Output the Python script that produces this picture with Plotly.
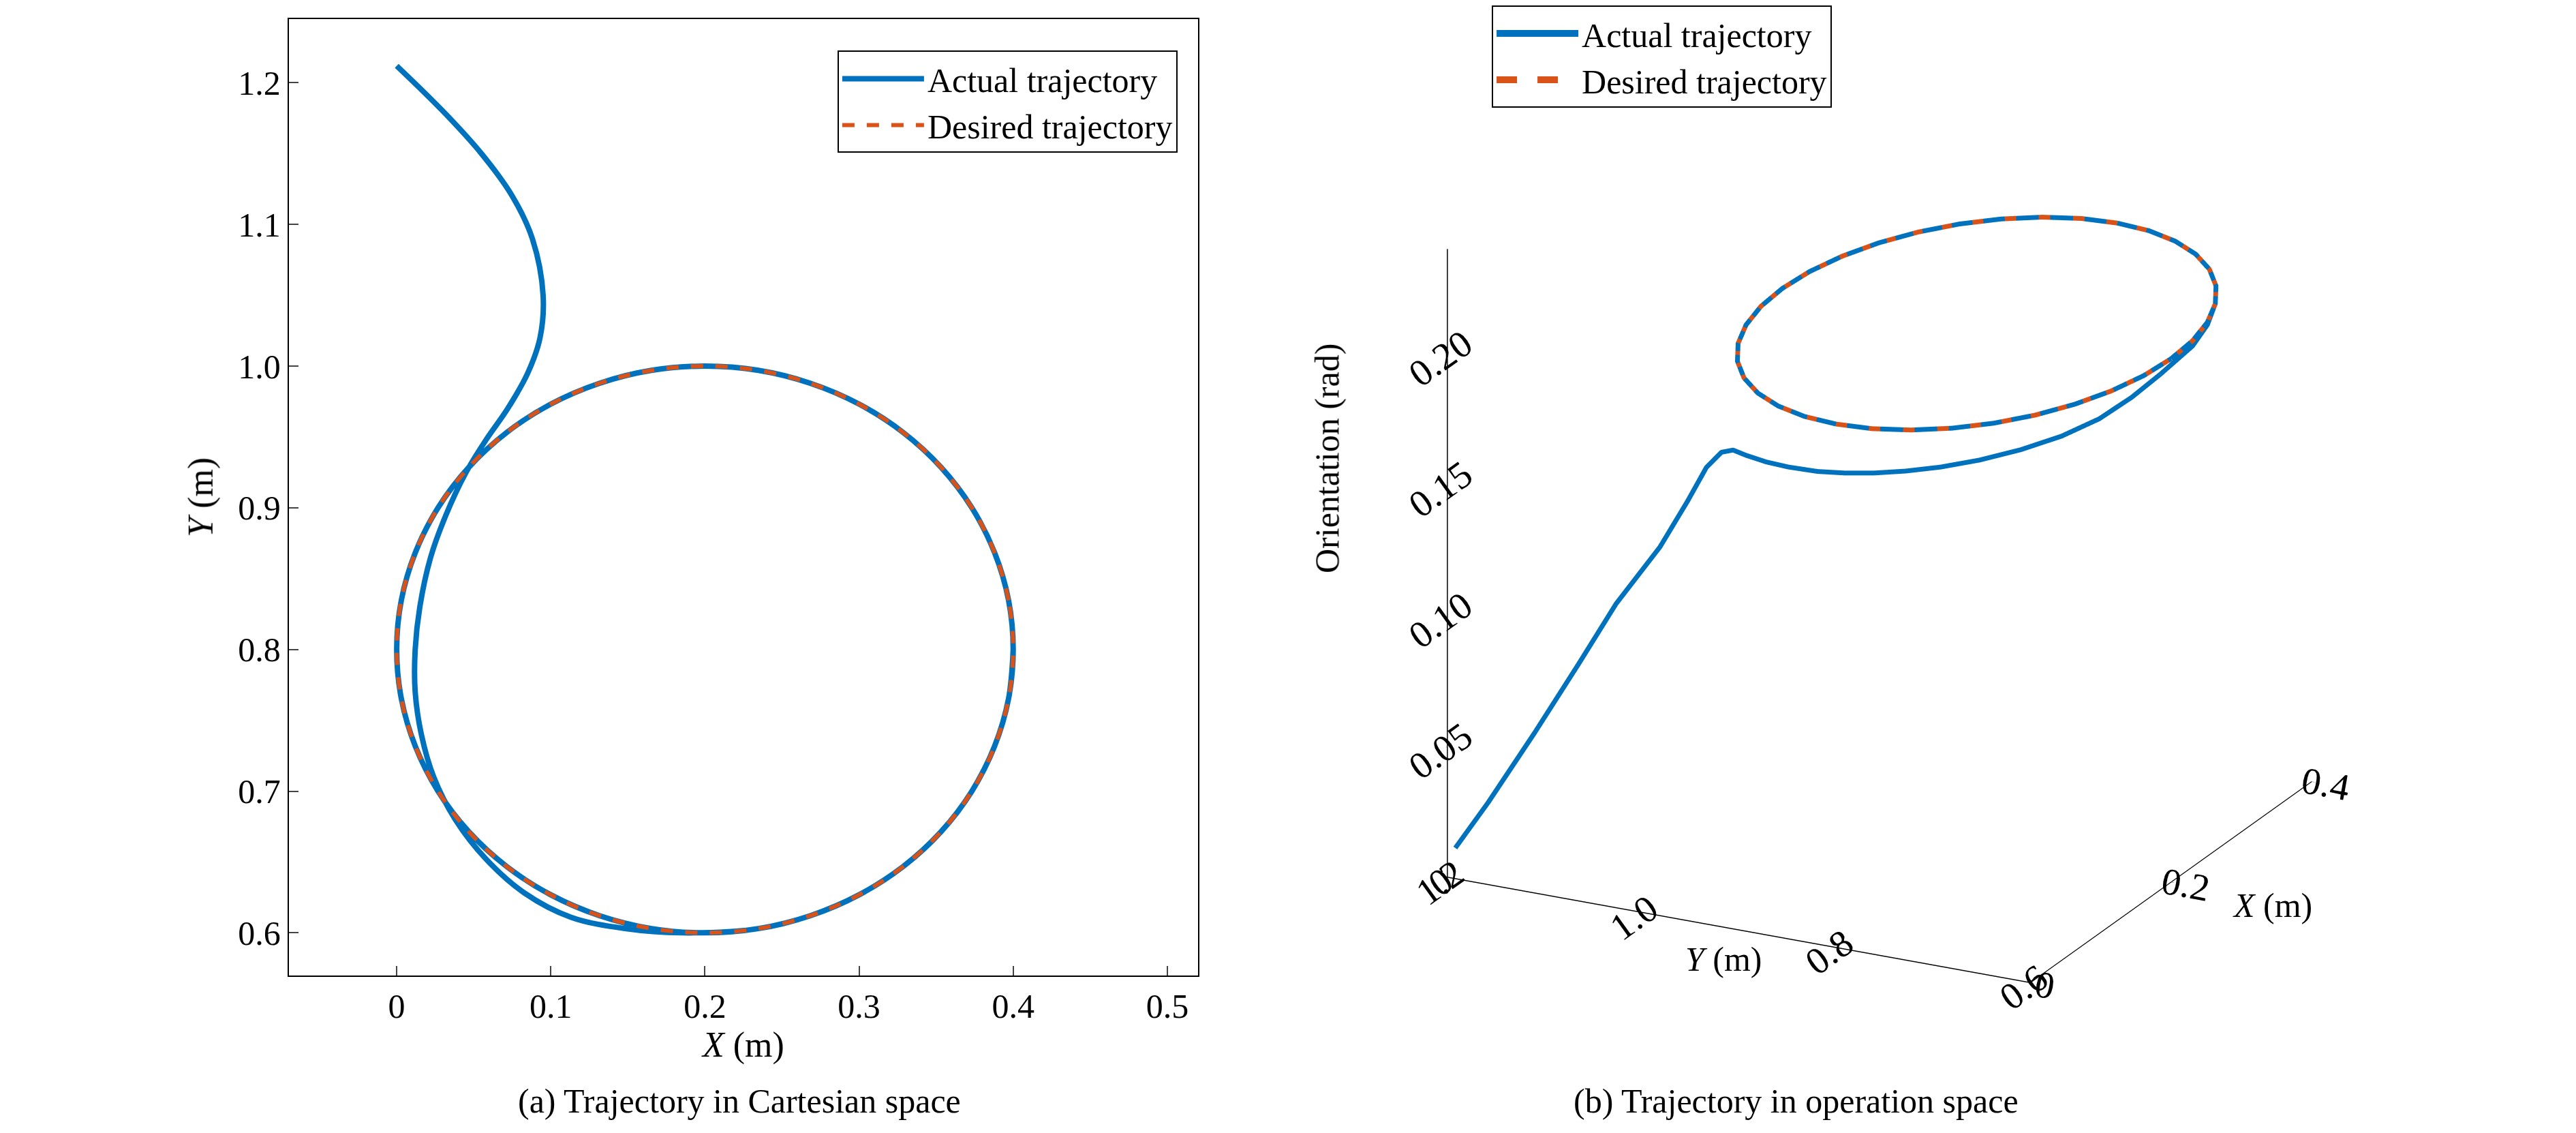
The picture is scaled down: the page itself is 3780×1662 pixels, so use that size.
import plotly.graph_objects as go

# Desired circle (centre (0.2, 0.8), radius 0.2), orientation 0.2 rad
des_x = [.4,.3970,.3879,.3732,.3532,.3286,.3,.2684,.2347,.2,.1653,.1316,.1,.0714,.0468,.0268,.0121,.0030,
         0,.0030,.0121,.0268,.0468,.0714,.1,.1316,.1653,.2,.2347,.2684,.3,.3286,.3532,.3732,.3879,.3970,.4]
des_y = [.8,.8347,.8684,.9,.9286,.9532,.9732,.9879,.9970,1.0,.9970,.9879,.9732,.9532,.9286,.9,.8684,.8347,
         .8,.7653,.7316,.7,.6714,.6468,.6268,.6121,.6030,.6,.6030,.6121,.6268,.6468,.6714,.7,.7316,.7653,.8]
des_z = [0.2]*len(des_x)

# Actual trajectory
act_x = [0,.03,.055,.075,.088,.095,.093,.085,.072,.058,.045,.032,.022,.015,.012,.012,.016,.024,.038,.058,.083,.113,.148,.185,
         .2347,.2684,.3,.3286,.3532,.3732,.3879,.3970,.4] + des_x[1:]
act_y = [1.212,1.18,1.15,1.12,1.09,1.05,1.02,.995,.97,.948,.925,.895,.865,.83,.80,.77,.74,.71,.68,.652,.628,.611,.603,.6,
         .603,.6121,.6268,.6468,.6714,.7,.7316,.7653,.8] + des_y[1:]
act_z = [0,.024,.048,.072,.095,.118,.138,.154,.164,.169,.171,.173,.175,.177,.179,.181,.183,.185,.187,.189,.191,.193,.195,.197,
         .198,.199,.2,.2,.2,.2,.2,.2,.2] + des_z[1:]

x_ticks = [0, 0.1, 0.2, 0.3, 0.4, 0.5]
x_ticktext = ["0", "0.1", "0.2", "0.3", "0.4", "0.5"]
y_ticks = [0.6, 0.7, 0.8, 0.9, 1.0, 1.1, 1.2]
y_ticktext = ["0.6", "0.7", "0.8", "0.9", "1.0", "1.1", "1.2"]

BLUE = "#0072BD"
ORANGE = "#D95319"
FONT = "Liberation Serif"
FS = 50
F3 = 26
K = 1.32  # scene scale

fig = go.Figure()
fig.add_trace(go.Scatter(x=act_x, y=act_y, mode="lines", name="Actual trajectory",
                         line=dict(color=BLUE, width=8, shape="spline"), legend="legend"))
fig.add_trace(go.Scatter(x=des_x, y=des_y, mode="lines", name="Desired trajectory",
                         line=dict(color=ORANGE, width=6, dash="dash", shape="spline"), legend="legend"))
fig.add_trace(go.Scatter3d(x=act_x, y=act_y, z=act_z, mode="lines", name="Actual trajectory",
                           line=dict(color=BLUE, width=14), legend="legend2"))
fig.add_trace(go.Scatter3d(x=des_x, y=des_y, z=des_z, mode="lines", name="Desired trajectory",
                           line=dict(color=ORANGE, width=14, dash="dash"), legend="legend2"))

ax = dict(showline=True, mirror=True, linecolor="black", linewidth=2, ticks="inside", ticklen=14,
          tickwidth=2, showgrid=False, zeroline=False, tickfont=dict(family=FONT, size=FS, color="black"))
ax3 = dict(showgrid=False, showbackground=False, zeroline=False, showline=True, linecolor="black",
           linewidth=3, ticks="inside", tickfont=dict(size=F3, family=FONT), showspikes=False,
           title=dict(text=""))
fig.update_layout(
    width=3780, height=1662, paper_bgcolor="white", plot_bgcolor="white",
    margin=dict(l=0, r=0, t=0, b=0), font=dict(family=FONT, size=FS, color="black"),
    xaxis=dict(ax, domain=[0.11, 0.463], range=[-0.07, 0.52], tickvals=x_ticks, ticktext=x_ticktext,
               title=dict(text="<i>X</i> (m)", font=dict(size=52), standoff=10)),
    yaxis=dict(ax, domain=[0.144, 0.988], range=[0.57, 1.245], tickvals=y_ticks, ticktext=y_ticktext,
               title=dict(text="<i>Y</i> (m)", font=dict(size=52), standoff=20)),
    legend=dict(x=0.455, y=0.96, xanchor="right", yanchor="top", bgcolor="white", itemwidth=120,
                bordercolor="black", borderwidth=2, font=dict(size=FS), tracegroupgap=0),
    legend2=dict(x=0.577, y=1.0, xanchor="left", yanchor="top", bgcolor="white", itemwidth=120,
                 bordercolor="black", borderwidth=2, font=dict(size=FS)),
    scene=dict(
        domain=dict(x=[0.51, 0.945], y=[0.1, 1.0]),
        xaxis=dict(ax3, range=[0, 0.4], tickvals=[0, 0.2, 0.4], ticktext=["0", "0.2", "0.4"]),
        yaxis=dict(ax3, range=[0.6, 1.2], tickvals=[0.6, 0.8, 1.0, 1.2], ticktext=["0.6", "0.8", "1.0", "1.2"]),
        zaxis=dict(ax3, range=[0, 0.24], tickvals=[0, 0.05, 0.1, 0.15, 0.2],
                   ticktext=["0", "0.05", "0.10", "0.15", "0.20"]),
        aspectmode="manual", aspectratio=dict(x=0.93 * K, y=0.97 * K, z=1.0 * K),
        camera=dict(eye=dict(x=-1.67, y=-0.84, z=0.72), projection=dict(type="orthographic")),
    ),
    annotations=[
        dict(text="(a) Trajectory in Cartesian space", x=0.285, y=0.015, xref="paper", yref="paper",
             showarrow=False, font=dict(size=FS), xanchor="center", yanchor="bottom"),
        dict(text="(b) Trajectory in operation space", x=0.695, y=0.015, xref="paper", yref="paper",
             showarrow=False, font=dict(size=FS), xanchor="center", yanchor="bottom"),
        dict(text="Orientation (rad)", x=0.513, y=0.6, xref="paper", yref="paper", textangle=-90,
             showarrow=False, font=dict(size=FS), xanchor="center", yanchor="middle"),
        dict(text="<i>Y</i> (m)", x=0.667, y=0.158, xref="paper", yref="paper",
             showarrow=False, font=dict(size=FS), xanchor="center", yanchor="middle"),
        dict(text="<i>X</i> (m)", x=0.88, y=0.206, xref="paper", yref="paper",
             showarrow=False, font=dict(size=FS), xanchor="center", yanchor="middle"),
    ],
)
fig.write_html("out.html")
